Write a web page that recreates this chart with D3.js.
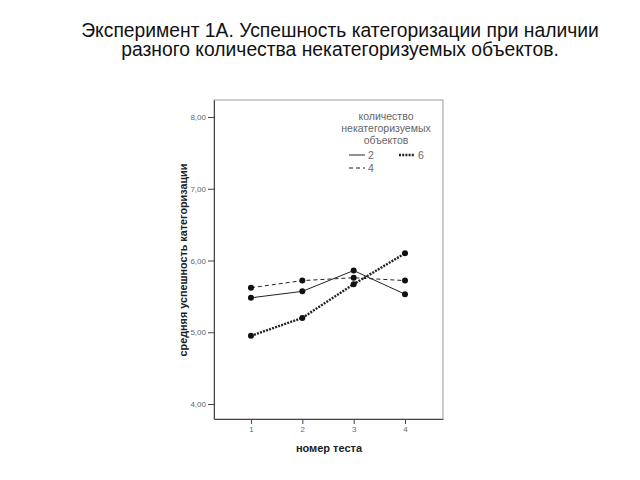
<!DOCTYPE html>
<html>
<head>
<meta charset="utf-8">
<script src="https://cdn.jsdelivr.net/npm/d3@7"></script>
<style>
  body { margin: 0; background: #fff; }
  svg { font-family: "Liberation Sans", Arial, sans-serif; }
</style>
</head>
<body>
<div id="chart"></div>
<script>
// data
const tests = [1, 2, 3, 4];
const seriesNames = ['2', '4', '6'];
const values2 = [5.48, 5.57, 5.86, 5.53];
const values4 = [5.62, 5.72, 5.76, 5.72];
const values6 = [4.95, 5.20, 5.67, 6.10];
const yTicks = [4, 5, 6, 7, 8];
const titleLines = ['Эксперимент 1А. Успешность категоризации при наличии',
                    'разного количества некатегоризуемых объектов.'];
const legendTitle = ['количество', 'некатегоризуемых', 'объектов'];

const W = 640, H = 480;
const svg = d3.select('#chart').append('svg')
  .attr('width', W).attr('height', H);

// title
svg.append('g').selectAll('text')
  .data(titleLines).enter().append('text')
  .attr('x', 340)
  .attr('y', (d, i) => 37 + i * 19)
  .attr('text-anchor', 'middle')
  .attr('font-size', 19.3)
  .attr('fill', '#111')
  .text(d => d);

// plot frame
const plotL = 214, plotR = 443, plotT = 100, plotB = 419;
const x = d3.scaleLinear().domain([0.28, 4.74]).range([plotL, plotR]);
const y = d3.scaleLinear().domain([3.791, 8.237]).range([plotB, plotT]);

svg.append('rect')
  .attr('x', plotL).attr('y', plotT)
  .attr('width', plotR - plotL).attr('height', plotB - plotT)
  .attr('fill', 'none').attr('stroke', '#999').attr('stroke-width', 1);

const fmt = d => d3.format('.2f')(d).replace('.', ',');

const yAxis = svg.append('g')
  .attr('transform', `translate(${plotL},0)`)
  .call(d3.axisLeft(y).tickValues(yTicks).tickFormat(fmt)
    .tickSize(6).tickSizeOuter(0).tickPadding(2));
yAxis.select('.domain').attr('stroke', '#444');
yAxis.selectAll('.tick line').attr('stroke', '#444');
yAxis.selectAll('text').attr('font-size', 8).attr('fill', '#666')
  .attr('font-family', '"Liberation Sans", Arial, sans-serif');

const xAxis = svg.append('g')
  .attr('transform', `translate(0,${plotB})`)
  .call(d3.axisBottom(x).tickValues(tests).tickFormat(d3.format('d'))
    .tickSize(5).tickSizeOuter(0).tickPadding(2));
xAxis.select('.domain').attr('stroke', '#444');
xAxis.selectAll('.tick line').attr('stroke', '#444');
xAxis.selectAll('text').attr('font-size', 8).attr('fill', '#666')
  .attr('font-family', '"Liberation Sans", Arial, sans-serif');

// axis titles
svg.append('text')
  .attr('x', 329).attr('y', 452)
  .attr('text-anchor', 'middle')
  .attr('font-size', 11).attr('font-weight', 'bold').attr('fill', '#222')
  .text('номер теста');

svg.append('text')
  .attr('transform', 'translate(187,260) rotate(-90)')
  .attr('text-anchor', 'middle')
  .attr('font-size', 10.8).attr('font-weight', 'bold').attr('fill', '#222')
  .text('средняя успешность категоризации');

// series
const styles = {
  '2': { dash: null, width: 1 },
  '4': { dash: '4,3', width: 1 },
  '6': { dash: '2,1.2', width: 2.4 }
};
const series = [
  { name: '2', values: values2 },
  { name: '4', values: values4 },
  { name: '6', values: values6 }
];

const line = d3.line()
  .x((d, i) => x(tests[i]))
  .y(d => y(d));

const sg = svg.selectAll('.series')
  .data(series).enter().append('g').attr('class', 'series');

sg.append('path')
  .attr('d', d => line(d.values))
  .attr('fill', 'none')
  .attr('stroke', '#222')
  .attr('stroke-width', d => styles[d.name].width)
  .attr('stroke-dasharray', d => styles[d.name].dash);

sg.selectAll('circle')
  .data(d => d.values).enter().append('circle')
  .attr('cx', (d, i) => x(tests[i]))
  .attr('cy', d => y(d))
  .attr('r', 3)
  .attr('fill', '#111');

// legend
const lg = svg.append('g').attr('fill', '#666').attr('font-size', 10.5);
lg.selectAll('text.lt')
  .data(legendTitle).enter().append('text')
  .attr('class', 'lt')
  .attr('x', 386)
  .attr('y', (d, i) => 119.5 + i * 12)
  .attr('text-anchor', 'middle')
  .text(d => d);

const legendPos = {
  '2': [349, 155],
  '4': [349, 168],
  '6': [399, 155]
};
seriesNames.forEach(n => {
  const [lx, ly] = legendPos[n];
  lg.append('line')
    .attr('x1', lx).attr('x2', lx + 16)
    .attr('y1', ly).attr('y2', ly)
    .attr('stroke', '#222')
    .attr('stroke-width', styles[n].width)
    .attr('stroke-dasharray', styles[n].dash);
  lg.append('text')
    .attr('x', lx + 19).attr('y', ly + 4)
    .attr('font-size', 10.5)
    .text(n);
});
</script>
</body>
</html>
